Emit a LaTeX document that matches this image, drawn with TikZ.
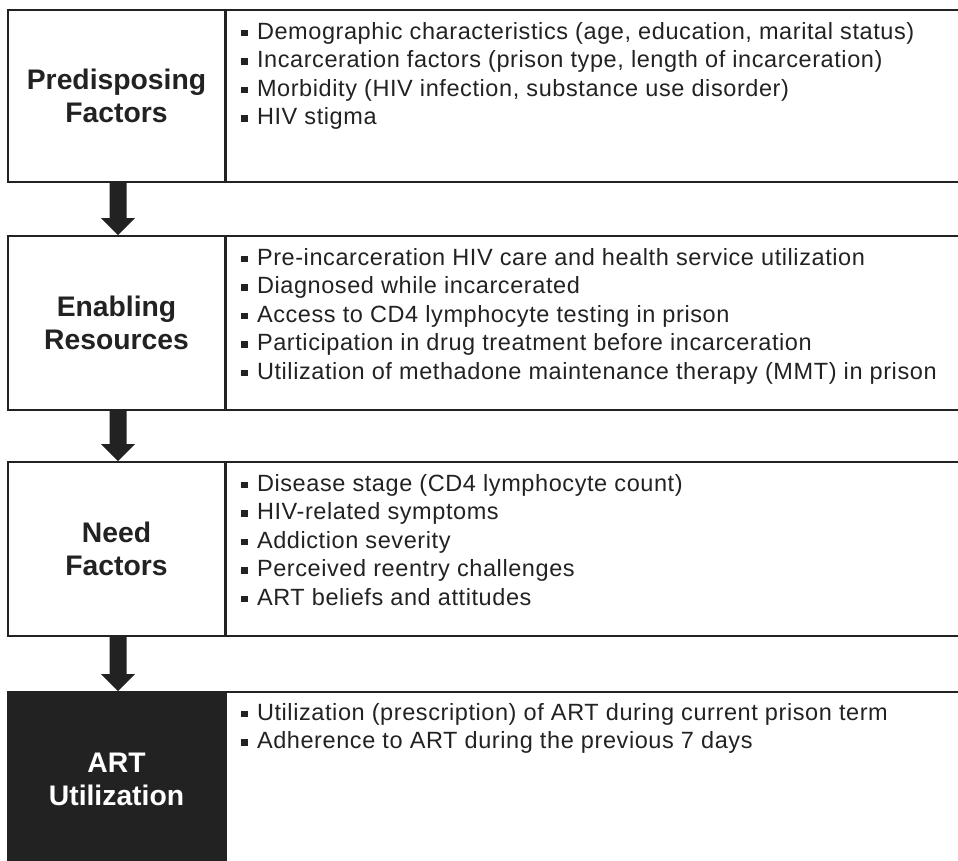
\documentclass[tikz,border=0pt]{standalone}
\usepackage{fontspec}
\setmainfont{Liberation Sans}
\newfontfamily\itemfont[LetterSpace=2.5]{Liberation Sans}
\usetikzlibrary{calc}
\definecolor{ink}{HTML}{222222}
\newcommand\bul{\rule[3pt]{6.5pt}{6.5pt}\hspace{9.5pt}}
\newcommand\fatarrow[2]{%
  \fill[flow] ($(#1.south)+(-7,0)$) -- ($(#1.south)+(10,0)$) -- ($(#2.north)+(10,-17)$) -- ($(#2.north)+(18.5,-17)$) -- ($(#2.north)+(1.5,0)$) -- ($(#2.north)+(-15.5,-17)$) -- ($(#2.north)+(-7,-17)$) -- cycle;}
\begin{document}
\begin{tikzpicture}[x=1pt,y=-1pt,
  lab/.style={draw=ink, line width=1.6pt, minimum width=217pt, inner sep=0pt, align=center,
    font=\bfseries\fontsize{28.3}{33}\selectfont, text=ink},
  cont/.style={draw=ink, line width=1.6pt, minimum width=745pt, inner sep=0pt, anchor=north west},
  items/.style={anchor=north west, inner sep=0pt, align=left, font=\itemfont\fontsize{23.5}{28.5}\selectfont, text=ink},
  flow/.style={fill=ink}]
\useasboundingbox (0,0) rectangle (958,861);
\clip (0,0) rectangle (958,861);

\node[lab, minimum height=172pt] (p1) at (116.5,96) {Predisposing\\Factors};
\node[cont, minimum height=172pt] (b1) at (p1.north east) {};
\node[items] (t1) at ($(b1.north west)+(15,13)$) {\bul Demographic characteristics (age, education, marital status)\\
\bul Incarceration factors (prison type, length of incarceration)\\
\bul Morbidity (HIV infection, substance use disorder)\\
\bul HIV stigma};

\node[lab, minimum height=174pt] (p2) at (116.5,323) {Enabling\\Resources};
\node[cont, minimum height=174pt] (b2) at (p2.north east) {};
\node[items] (t2) at ($(b2.north west)+(15,13)$) {\bul Pre-incarceration HIV care and health service utilization\\
\bul Diagnosed while incarcerated\\
\bul Access to CD4 lymphocyte testing in prison\\
\bul Participation in drug treatment before incarceration\\
\bul Utilization of methadone maintenance therapy (MMT) in prison};

\node[lab, minimum height=174pt] (p3) at (116.5,549) {Need\\Factors};
\node[cont, minimum height=174pt] (b3) at (p3.north east) {};
\node[items] (t3) at ($(b3.north west)+(15,13)$) {\bul Disease stage (CD4 lymphocyte count)\\
\bul HIV-related symptoms\\
\bul Addiction severity\\
\bul Perceived reentry challenges\\
\bul ART beliefs and attitudes};

\node[lab, fill=ink, text=white, minimum height=174pt] (p4) at (116.5,779) {ART\\Utilization};
\node[cont, minimum height=174pt] (b4) at (p4.north east) {};
\node[items] (t4) at ($(b4.north west)+(15,12)$) {\bul Utilization (prescription) of ART during current prison term\\
\bul Adherence to ART during the previous 7 days};

\fatarrow{p1}{p2}
\fatarrow{p2}{p3}
\fatarrow{p3}{p4}
\end{tikzpicture}
\end{document}
